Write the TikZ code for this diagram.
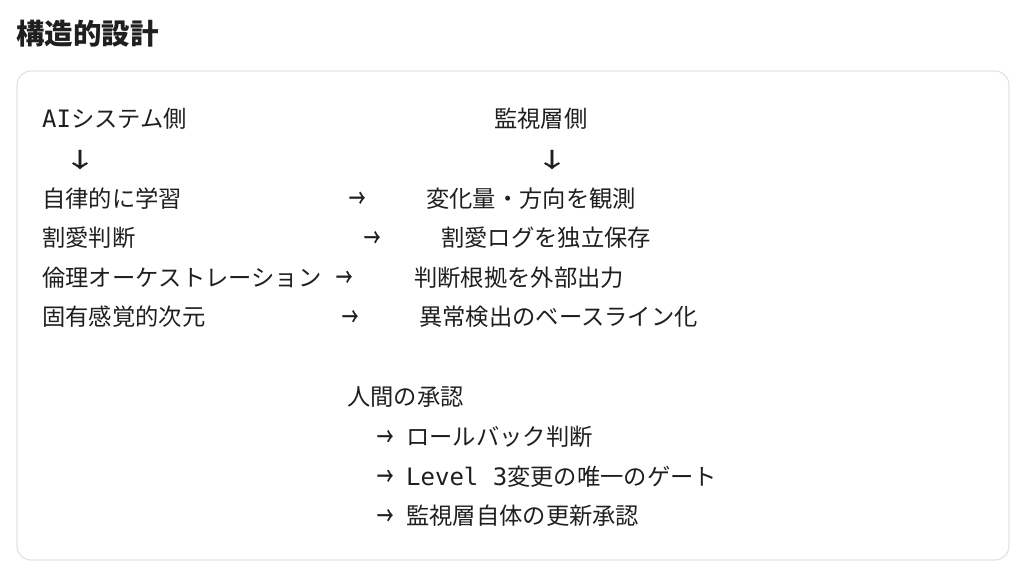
\documentclass[tikz,border=0pt]{standalone}
\usepackage{fontspec}
\usepackage{graphicx}
\usepackage{tikz}
\newfontfamily\jpfont{Noto Sans CJK JP}
\newfontfamily\arrowfont{Noto Sans CJK JP}[FakeBold=1.2]
\newfontfamily\codefont{DejaVu Sans Mono}
\definecolor{ink}{HTML}{1F1F1F}
\definecolor{rim}{HTML}{E3E3E3}
\newcommand{\monotext}[1]{{\codefont\fontsize{24}{28}\selectfont #1}}
\newcommand{\toarrow}{\scalebox{0.9}[1.4]{→}}
\newcommand{\downarrowmark}{\scalebox{1.8}[1.15]{↓}}

\begin{document}
\begin{tikzpicture}[x=1pt, y=-1pt,
    txt/.style={anchor=west, inner sep=0pt, text=ink, text height=0.88em, text depth=0.12em,
      yshift=-6pt, font={\jpfont\fontsize{23.3}{28}\selectfont}},
    arr/.style={txt, anchor=center, font={\arrowfont\fontsize{18}{20}\selectfont}},
    head/.style={txt, font={\jpfont\bfseries\fontsize{28.5}{34}\selectfont}}]
  \useasboundingbox (0,0) rectangle (1024,570);

  \node[head] (title) at (16,35) {構造的設計}; %
  \draw[rim, line width=1.2pt, rounded corners=14pt] (17,71) rectangle (1009,560); %

  % two sides
  \node[txt] (ai) at (42,118) {\monotext{AI}システム側}; %
  \node[txt] (mon) at (494,118) {監視層側}; %
  \node[arr] (aidown) at (80,157.5) {\downarrowmark}; %
  \node[arr] (mondown) at (552,157.5) {\downarrowmark}; %

  \node[txt] (learn) at (42,197.5) {自律的に学習}; %
  \node[txt] (omit) at (42,237) {割愛判断}; %
  \node[txt] (ethic) at (42,276.5) {倫理オーケストレーション}; %
  \node[txt] (sense) at (42,316) {固有感覚的次元}; %

  \node[arr] (a1) at (357,197.5) {\toarrow}; %
  \node[arr] (a2) at (372,237) {\toarrow}; %
  \node[arr] (a3) at (344,276.5) {\toarrow}; %
  \node[arr] (a4) at (350,316) {\toarrow}; %

  \node[txt] (watch) at (426,197.5) {変化量・方向を観測}; %
  \node[txt] (store) at (441,237) {割愛ログを独立保存}; %
  \node[txt] (export) at (414,276.5) {判断根拠を外部出力}; %
  \node[txt] (base) at (419,316) {異常検出のベースライン化}; %

  % human approval
  \node[txt] (human) at (347,396) {人間の承認}; %
  \node[arr] (h1) at (385,436) {\toarrow}; %
  \node[arr] (h2) at (385,475.5) {\toarrow}; %
  \node[arr] (h3) at (385,515) {\toarrow}; %
  \node[txt] (rollback) at (406,436) {ロールバック判断}; %
  \node[txt] (gate) at (406,475.5) {\monotext{Level 3}変更の唯一のゲート}; %
  \node[txt] (update) at (406,515) {監視層自体の更新承認}; %
\end{tikzpicture}
\end{document}
